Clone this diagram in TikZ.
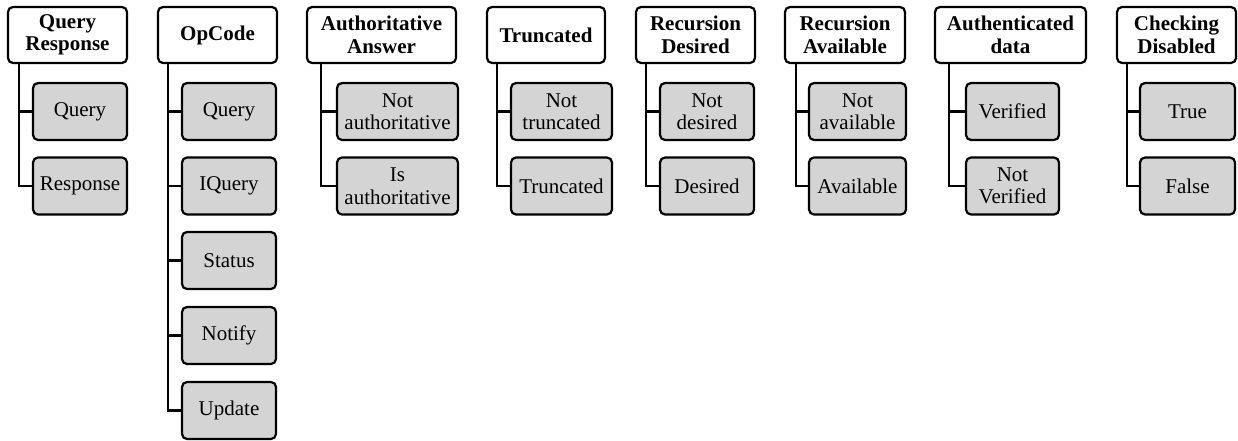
\documentclass[tikz,border=0pt]{standalone}
\usepackage{fontspec}
\setmainfont{Liberation Serif}
\definecolor{leafgray}{RGB}{212,212,212}
\tikzset{
  box/.style={draw=black, line width=2.2pt, rounded corners=5pt, align=center,
              inner sep=0pt, minimum height=56pt},
  head/.style={box, fill=white, font=\fontsize{21pt}{22.5pt}\selectfont\bfseries},
  leaf/.style={box, fill=leafgray, minimum height=57pt, font=\fontsize{21pt}{22.5pt}\selectfont},
  conn/.style={line width=2.8pt, line cap=butt},
}
\begin{document}
\begin{tikzpicture}[x=1pt,y=-1pt]
\useasboundingbox (0,0) rectangle (1238,441);

% header boxes
\node[head, minimum width=119pt] (qr) at (67.5,35) {Query\\Response};
\node[head, minimum width=119pt] (op) at (217.5,35) {OpCode};
\node[head, minimum width=149pt] (aa) at (381.5,35) {Authoritative\\Answer};
\node[head, minimum width=118pt] (tr) at (546,35) {Truncated};
\node[head, minimum width=119pt] (rd) at (695.5,35) {Recursion\\Desired};
\node[head, minimum width=120pt] (ra) at (845,35) {Recursion\\Available};
\node[head, minimum width=151pt] (ad) at (1010.5,35) {Authenticated\\data};
\node[head, minimum width=119pt] (cd) at (1176.5,35) {Checking\\Disabled};

% value boxes
\node[leaf, minimum width=94pt] (qr1) at (80,111.5) {Query};
\node[leaf, minimum width=94pt] (qr2) at (80,186) {Response};

\node[leaf, minimum width=94pt] (op1) at (229,111.5) {Query};
\node[leaf, minimum width=94pt] (op2) at (229,186) {IQuery};
\node[leaf, minimum width=94pt] (op3) at (229,260.5) {Status};
\node[leaf, minimum width=94pt] (op4) at (229,335.5) {Notify};
\node[leaf, minimum width=94pt] (op5) at (229,410.5) {Update};

\node[leaf, minimum width=121pt] (aa1) at (397.5,111.5) {Not\\authoritative};
\node[leaf, minimum width=121pt] (aa2) at (397.5,186) {Is\\authoritative};

\node[leaf, minimum width=101pt] (tr1) at (561.5,111.5) {Not\\truncated};
\node[leaf, minimum width=101pt] (tr2) at (561.5,186) {Truncated};

\node[leaf, minimum width=94pt] (rd1) at (707,111.5) {Not\\desired};
\node[leaf, minimum width=94pt] (rd2) at (707,186) {Desired};

\node[leaf, minimum width=97pt] (ra1) at (857.5,111.5) {Not\\available};
\node[leaf, minimum width=97pt] (ra2) at (857.5,186) {Available};

\node[leaf, minimum width=93pt] (ad1) at (1012.5,111.5) {Verified};
\node[leaf, minimum width=93pt] (ad2) at (1012.5,186) {Not\\Verified};

\node[leaf, minimum width=95pt] (cd1) at (1187.5,111.5) {True};
\node[leaf, minimum width=95pt] (cd2) at (1187.5,186) {False};

% tree connectors: a trunk down from each header, a branch to each value
\foreach \r/\s/\list in {qr/12/{qr1,qr2}, op/11/{op1,op2,op3,op4,op5},
                         aa/15/{aa1,aa2}, tr/11/{tr1,tr2}, rd/11/{rd1,rd2},
                         ra/12/{ra1,ra2}, ad/15/{ad1,ad2}, cd/11/{cd1,cd2}}
  \foreach \c in \list
    \draw[conn] ([xshift=\s pt]\r.south west) |- (\c.west);
\end{tikzpicture}
\end{document}
